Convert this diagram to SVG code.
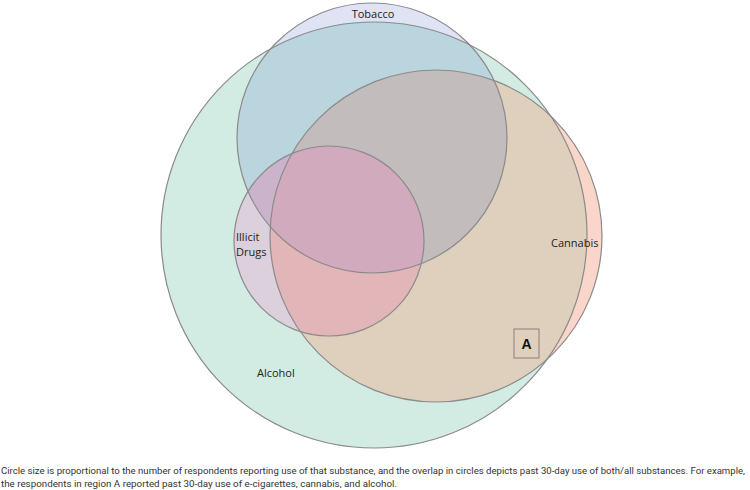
<svg xmlns="http://www.w3.org/2000/svg" width="750" height="490" viewBox="0 0 750 490">
<style>
.lbl{font-family:"Open Sans","Liberation Sans",sans-serif;font-size:11px;fill:#222}
.cap{font-family:"Roboto","Liberation Sans",sans-serif;font-size:9.3px;fill:#333}
.ol{fill:none;stroke:#8a8a8a;stroke-width:1.2}
</style>
<defs>
<clipPath id="cA"><circle cx="374" cy="235" r="213"/></clipPath>
<clipPath id="cT"><circle cx="372" cy="138" r="135"/></clipPath>
<clipPath id="cC"><circle cx="436" cy="236" r="166"/></clipPath>
</defs>
<rect width="750" height="490" fill="#fff"/>
<g id="alcohol">
<circle cx="374" cy="235" r="213" fill="#d3ece3"/>
</g>
<g id="tobacco">
<circle cx="372" cy="138" r="135" fill="#dfe3f3"/>
<g clip-path="url(#cA)"><circle cx="372" cy="138" r="135" fill="#bad5dd"/></g>
</g>
<g id="cannabis">
<circle cx="436" cy="236" r="166" fill="#f9d5ca"/>
<g clip-path="url(#cA)"><circle cx="436" cy="236" r="166" fill="#dfd0bd"/></g>
<g clip-path="url(#cT)"><circle cx="436" cy="236" r="166" fill="#c3bcbc"/></g>
</g>
<g id="illicit">
<circle cx="329" cy="241" r="95" fill="#dcd0dc"/>
<g clip-path="url(#cT)"><circle cx="329" cy="241" r="95" fill="#cbb4cb"/></g>
<g clip-path="url(#cC)"><circle cx="329" cy="241" r="95" fill="#e2b5b9"/></g>
<g clip-path="url(#cC)"><g clip-path="url(#cT)"><circle cx="329" cy="241" r="95" fill="#d1abbd"/></g></g>
</g>
<g id="outlines">
<circle class="ol" cx="374" cy="235" r="213"/>
<circle class="ol" cx="372" cy="138" r="135"/>
<circle class="ol" cx="436" cy="236" r="166"/>
<circle class="ol" cx="329" cy="241" r="95"/>
</g>
<g id="labels">
<text class="lbl" x="373" y="18" text-anchor="middle">Tobacco</text>
<text class="lbl" x="236" y="241">Illicit</text>
<text class="lbl" x="236" y="256">Drugs</text>
<text class="lbl" x="551" y="247">Cannabis</text>
<text class="lbl" x="257" y="377">Alcohol</text>
</g>
<g id="regionA">
<rect x="514" y="329" width="25" height="29" fill="none" stroke="#8a8078" stroke-width="1"/>
<text x="526.5" y="349" text-anchor="middle" font-family="'Liberation Sans',sans-serif" font-size="14" font-weight="bold" fill="#111">A</text>
</g>
<g id="caption">
<text class="cap" x="1" y="474" textLength="744" lengthAdjust="spacingAndGlyphs">Circle size is proportional to the number of respondents reporting use of that substance, and the overlap in circles depicts past 30-day use of both/all substances. For example,</text>
<text class="cap" x="1" y="487" textLength="396" lengthAdjust="spacingAndGlyphs">the respondents in region A reported past 30-day use of e-cigarettes, cannabis, and alcohol.</text>
</g>
</svg>
